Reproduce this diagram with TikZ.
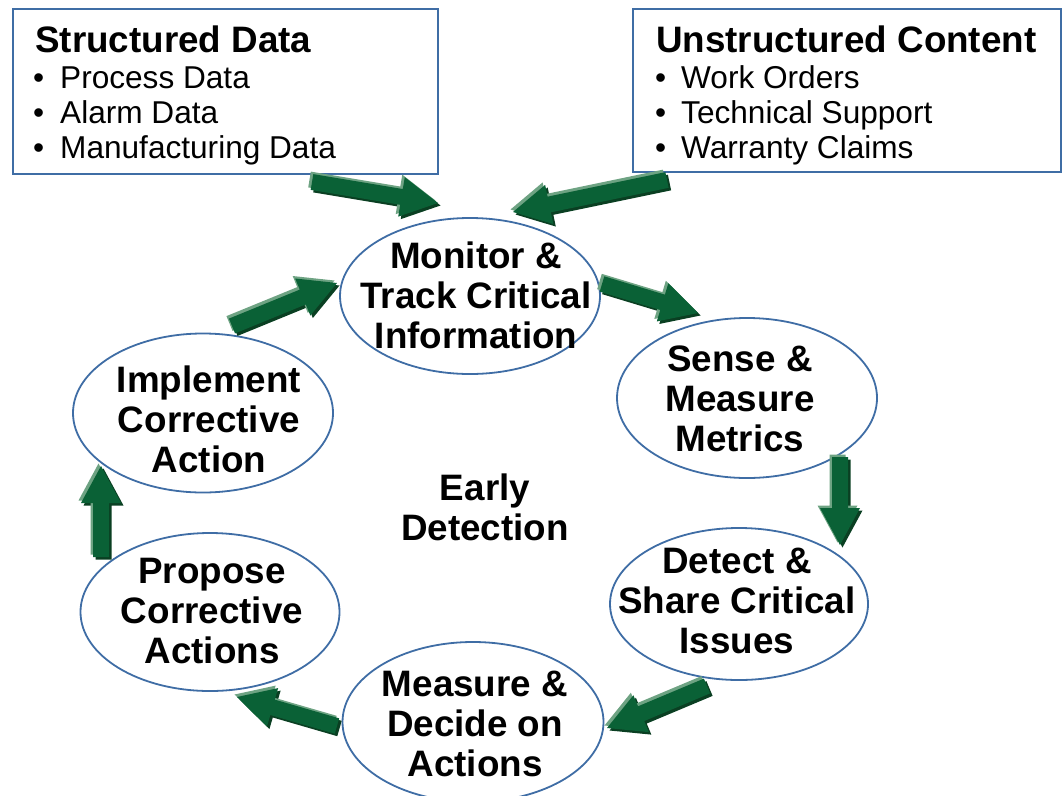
\documentclass[tikz,border=0pt]{standalone}
\usepackage{fontspec}
\setmainfont{Liberation Sans}
\usetikzlibrary{calc,shapes.geometric}

\definecolor{edgeblue}{HTML}{3F6DA5}
\definecolor{arrmain}{HTML}{0A6136}
\definecolor{arrlight}{HTML}{6EA383}
\definecolor{arrdark}{HTML}{0A3F22}

\tikzset{
  stage/.style={ellipse, draw=edgeblue, line width=1.8pt, inner sep=0pt},
  stagetext/.style={align=center, inner sep=0pt,
    font=\fontsize{36.8}{40}\selectfont\bfseries},
  infobox/.style={draw=edgeblue, line width=1.8pt},
  boxtitle/.style={anchor=base west, inner sep=0pt, font=\fontsize{36.8}{40}\selectfont\bfseries},
  boxitem/.style={anchor=base west, inner sep=0pt, font=\fontsize{31.6}{35}\selectfont}
}

% Bevelled block arrow from tail coordinate #1 to tip coordinate #2
\newcommand\blockarrow[2]{%
  \coordinate (hb) at ($(#2)!37pt!(#1)$);
  \foreach \sx/\sy/\cl in {2.5/-2.5/arrdark,-2.5/2.5/arrlight,0/0/arrmain}{
    \fill[\cl, transform canvas={xshift=\sx pt, yshift=\sy pt}]
      ($(#1)!8pt!90:(#2)$) -- ($(hb)!8pt!90:(#2)$) -- ($(hb)!20pt!90:(#2)$)
      -- (#2) -- ($(hb)!20pt!-90:(#2)$) -- ($(hb)!8pt!-90:(#2)$)
      -- ($(#1)!8pt!-90:(#2)$) -- cycle;
  }%
}

\begin{document}
\begin{tikzpicture}[x=1pt, y=-1pt]
\useasboundingbox (0,0) rectangle (1064,795);

% source boxes
\draw[infobox] (13,9) rectangle (438,174);
\node[boxtitle] (sdt) at (35,52) {Structured Data};
\node[boxitem] (sb1) at (33,88) {•};
\node[boxitem] (s1) at (60,88) {Process Data};
\node[boxitem] (sb2) at (33,123) {•};
\node[boxitem] (s2) at (60,123) {Alarm Data};
\node[boxitem] (sb3) at (33,158) {•};
\node[boxitem] (s3) at (60,158) {Manufacturing Data};

\draw[infobox] (633,9) rectangle (1061,172);
\node[boxtitle] (udt) at (656,52) {Unstructured Content};
\node[boxitem] (ub1) at (655,88) {•};
\node[boxitem] (u1) at (681,88) {Work Orders};
\node[boxitem] (ub2) at (655,123) {•};
\node[boxitem] (u2) at (681,123) {Technical Support};
\node[boxitem] (ub3) at (655,158) {•};
\node[boxitem] (u3) at (681,158) {Warranty Claims};

% cycle stages: outlines
\node[stage, minimum width=260pt, minimum height=156pt] (mon) at (470,296) {};
\node[stage, minimum width=260pt, minimum height=160pt] (sen) at (747,398) {};
\node[stage, minimum width=258pt, minimum height=152pt] (det) at (739,604) {};
\node[stage, minimum width=261pt, minimum height=160pt] (mea) at (473,722) {};
\node[stage, minimum width=259pt, minimum height=158pt] (pro) at (210,612) {};
\node[stage, minimum width=260pt, minimum height=159pt] (imp) at (203,413) {};

% cycle stages: labels
\node[stagetext] (monl) at (476,295) {Monitor \&\\Track Critical\\Information};
\node[stagetext] (senl) at (740,399) {Sense \&\\Measure\\Metrics};
\node[stagetext] (detl) at (737,601) {Detect \&\\Share Critical\\Issues};
\node[stagetext] (meal) at (475,724) {Measure \&\\Decide on\\Actions};
\node[stagetext] (prol) at (212,611) {Propose\\Corrective\\Actions};
\node[stagetext] (impl) at (209,419) {Implement\\Corrective\\Action};

\node[stagetext] (early) at (485,507) {Early\\Detection};

% arrow ends
\coordinate (a1t) at (312,182); \coordinate (a1h) at (438,203);
\coordinate (a2t) at (667,180); \coordinate (a2h) at (513,212);
\coordinate (a3t) at (602,284); \coordinate (a3h) at (698,313);
\coordinate (a4t) at (840,457); \coordinate (a4h) at (840,545);
\coordinate (a5t) at (707,686); \coordinate (a5h) at (607,728);
\coordinate (a6t) at (337,726); \coordinate (a6h) at (237,697);
\coordinate (a7t) at (101,557); \coordinate (a7h) at (101,466);
\coordinate (a8t) at (232,326); \coordinate (a8h) at (337,283);

\blockarrow{a1t}{a1h}
\blockarrow{a2t}{a2h}
\blockarrow{a3t}{a3h}
\blockarrow{a4t}{a4h}
\blockarrow{a5t}{a5h}
\blockarrow{a6t}{a6h}
\blockarrow{a7t}{a7h}
\blockarrow{a8t}{a8h}
\end{tikzpicture}
\end{document}
